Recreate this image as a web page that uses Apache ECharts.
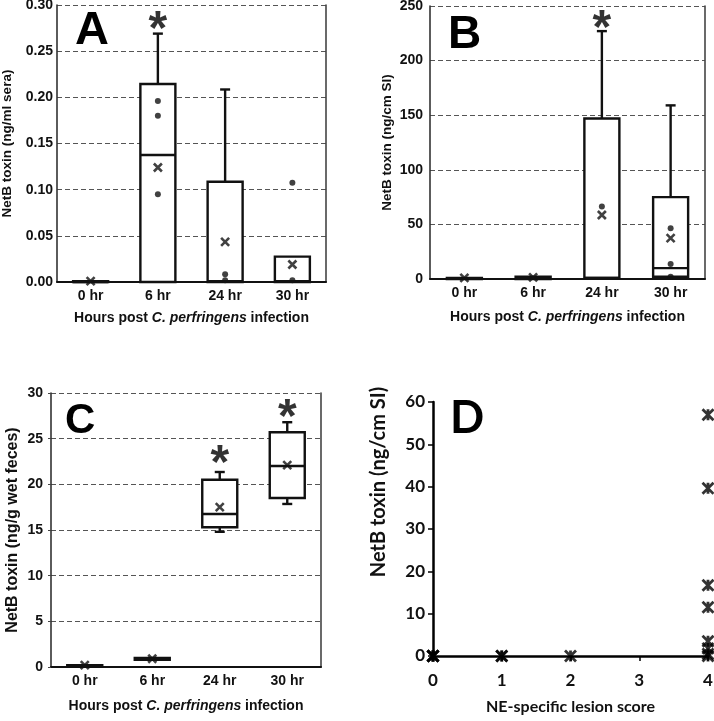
<!DOCTYPE html>
<html><head><meta charset="utf-8">
<script src="https://cdn.jsdelivr.net/npm/echarts@6/dist/echarts.min.js"></script>
<style>html,body{margin:0;padding:0;background:#fff}#c{width:714px;height:721px}</style>
</head><body><div id="c"></div>
<script>
// ---------- data ----------
const categories = ['0 hr', '6 hr', '24 hr', '30 hr'];

// Box data per time point: [lower whisker, Q1, median, Q3, upper whisker]
const boxA = [[0, 0, 0, 0.001, 0.001], [0, 0, 0.1375, 0.2145, 0.269], [0, 0, 0.001, 0.1085, 0.2085], [0, 0, 0.001, 0.0275, 0.0275]];
const meanA = [0.001, 0.124, 0.0435, 0.019];
const dotsA = [['6 hr', 0.196], ['6 hr', 0.180], ['6 hr', 0.095], ['24 hr', 0.0083], ['24 hr', 0.002], ['30 hr', 0.1075], ['30 hr', 0.002]];
const starsA = [['6 hr', 0.284]];

const boxB = [[0, 0, 0.5, 1, 1], [0, 0, 1, 2, 2], [1, 1, 1, 147, 227], [2, 2, 10, 75, 159]];
const meanB = [1, 1.5, 58.6, 37.5];
const dotsB = [['24 hr', 66.5], ['30 hr', 46.5], ['30 hr', 13.8], ['30 hr', 2]];
const starsB = [['24 hr', 238]];

const boxC = [[0.1, 0.1, 0.15, 0.2, 0.2], [0.8, 0.8, 0.9, 1.0, 1.0], [14.8, 15.3, 16.75, 20.5, 21.35], [17.85, 18.5, 22.0, 25.7, 26.8]];
const meanC = [0.2, 0.9, 17.5, 22.1];
const starsC = [['24 hr', 23.3], ['30 hr', 28.4]];

const lesionScore = [0, 0, 0, 0, 1, 1, 2, 4, 4, 4, 4, 4, 4, 4, 4];
const netbSI = [0, 0, 0, 0, 0, 0, 0, 57, 39.6, 16.7, 11.5, 3.5, 1.8, 0.5, 0];

const yTicksA = { min: 0, max: 0.3, interval: 0.05 };
const yTicksB = { min: 0, max: 250, interval: 50 };
const yTicksC = { min: 0, max: 30, interval: 5 };
const yTicksD = { min: 0, max: 60, interval: 10 };
const xTicksD = { min: 0, max: 4, interval: 1 };

// ---------- styling ----------
const F = '"Liberation Sans", Arial, sans-serif';
const FD = 'Lato, "Open Sans", sans-serif';
const INK = '#111';

function boxRender(params, api) {
  const cat = api.value(0);
  const lo = api.value(1), q1 = api.value(2), md = api.value(3), q3 = api.value(4), hi = api.value(5);
  const pLo = api.coord([cat, lo]), pQ1 = api.coord([cat, q1]), pMd = api.coord([cat, md]);
  const pQ3 = api.coord([cat, q3]), pHi = api.coord([cat, hi]);
  const cx = pQ1[0], half = 17.5, cap = 5;
  const ls = { stroke: INK, lineWidth: 2.4 };
  const ch = [];
  if (hi > q3) {
    ch.push({ type: 'line', shape: { x1: cx, y1: pQ3[1], x2: cx, y2: pHi[1] }, style: ls });
    ch.push({ type: 'line', shape: { x1: cx - cap, y1: pHi[1], x2: cx + cap, y2: pHi[1] }, style: ls });
  }
  if (lo < q1) {
    ch.push({ type: 'line', shape: { x1: cx, y1: pQ1[1], x2: cx, y2: pLo[1] }, style: ls });
    ch.push({ type: 'line', shape: { x1: cx - cap, y1: pLo[1], x2: cx + cap, y2: pLo[1] }, style: ls });
  }
  ch.push({ type: 'rect', shape: { x: cx - half, y: pQ3[1], width: 2 * half, height: Math.max(pQ1[1] - pQ3[1], 0.8) }, style: { fill: '#fff', stroke: INK, lineWidth: 2.4 } });
  ch.push({ type: 'line', shape: { x1: cx - half, y1: pMd[1], x2: cx + half, y2: pMd[1] }, style: ls });
  return { type: 'group', children: ch };
}

function boxSeries(idx, box, mean, dots, stars) {
  const out = [];
  out.push({
    type: 'custom', xAxisIndex: idx, yAxisIndex: idx, renderItem: boxRender, z: 3,
    encode: { x: 0, y: [1, 2, 3, 4, 5] },
    data: box.map((b, i) => [categories[i], ...b])
  });
  out.push({
    type: 'scatter', xAxisIndex: idx, yAxisIndex: idx, z: 5,
    symbol: 'path://M0,0L10,10M10,0L0,10', symbolSize: 8,
    itemStyle: { color: INK, borderColor: INK, borderWidth: 2.6 },
    data: mean.map((v, i) => [categories[i], v])
  });
  if (dots && dots.length) out.push({
    type: 'scatter', xAxisIndex: idx, yAxisIndex: idx, z: 5,
    symbol: 'circle', symbolSize: 6, itemStyle: { color: INK },
    data: dots
  });
  out.push({
    type: 'scatter', xAxisIndex: idx, yAxisIndex: idx, z: 6, silent: true,
    symbol: 'circle', symbolSize: 1, itemStyle: { color: 'rgba(0,0,0,0)' },
    label: { show: true, position: 'inside', formatter: '*', fontSize: 48, fontWeight: 'bold', fontFamily: F, color: '#000', offset: [0, 11] },
    data: stars
  });
  return out;
}

function catAxis(grid, nameGap) {
  return {
    type: 'category', gridIndex: grid, data: categories, boundaryGap: true,
    axisLine: { show: true, onZero: false, lineStyle: { color: INK, width: 2 } },
    axisTick: { show: false }, splitLine: { show: false },
    axisLabel: { margin: 7, fontSize: 14, fontWeight: 'bold', color: INK, fontFamily: F },
    name: 'Hours post {i|C. perfringens} infection', nameLocation: 'middle', nameGap, nameMoveOverlap: false,
    nameTextStyle: { fontSize: 14, fontWeight: 'bold', color: INK, fontFamily: F,
      rich: { i: { fontSize: 14, fontWeight: 'bold', fontStyle: 'italic', color: INK, fontFamily: F } } }
  };
}
function valAxis(grid, t, name, nameGap, nameSize, fmt, margin, tick) {
  return {
    type: 'value', gridIndex: grid, min: t.min, max: t.max, interval: t.interval,
    axisLine: { show: true, onZero: false, lineStyle: { color: '#333', width: 1.6 } },
    axisTick: { show: !!tick, length: 3, lineStyle: { color: '#444' } },
    splitLine: { show: true, lineStyle: { color: '#555', width: 1.2, type: [5, 3] } },
    axisLabel: { formatter: fmt, margin, fontSize: 14, fontWeight: 'bold', color: INK, fontFamily: F },
    name, nameLocation: 'middle', nameGap, nameMoveOverlap: false,
    nameTextStyle: { fontSize: nameSize, fontWeight: 'bold', color: INK, fontFamily: F }
  };
}
function frameAxis(grid, t) {
  return {
    type: 'value', gridIndex: grid, position: 'right', min: t.min, max: t.max, interval: t.interval,
    axisLine: { show: true, onZero: false, lineStyle: { color: '#444', width: 1.6 } },
    axisTick: { show: false }, axisLabel: { show: false }, splitLine: { show: false }
  };
}

const option = {
  backgroundColor: '#fff',
  animation: false,
  grid: [
    { left: 57, top: 5, width: 269, height: 277, outerBoundsMode: 'none' },
    { left: 430, top: 6, width: 275, height: 273, outerBoundsMode: 'none' },
    { left: 51, top: 393, width: 270, height: 274, outerBoundsMode: 'none' },
    { left: 433, top: 402, width: 275, height: 254, outerBoundsMode: 'none' }
  ],
  xAxis: [
    catAxis(0, 29),
    catAxis(1, 31),
    catAxis(2, 32),
    {
      type: 'value', gridIndex: 3, min: xTicksD.min, max: xTicksD.max, interval: xTicksD.interval,
      axisLine: { show: true, onZero: false, lineStyle: { color: '#000', width: 2.5 } },
      axisTick: { show: true, length: 5, lineStyle: { color: '#000', width: 1.5 } },
      splitLine: { show: false },
      axisLabel: { margin: 16, fontSize: 17, fontWeight: 'bold', color: INK, fontFamily: FD },
      name: 'NE-specific lesion score', nameLocation: 'middle', nameGap: 43, nameMoveOverlap: false,
      nameTextStyle: { fontSize: 16, fontWeight: 'bold', color: INK, fontFamily: FD }
    }
  ],
  yAxis: [
    valAxis(0, yTicksA, 'NetB toxin (ng/ml sera)', 43, 13.5, v => v.toFixed(2), 4, false),
    valAxis(1, yTicksB, 'NetB toxin (ng/cm SI)', 36, 13.5, v => String(v), 7, false),
    valAxis(2, yTicksC, 'NetB toxin (ng/g wet feces)', 30, 16, v => String(v), 8, true),
    {
      type: 'value', gridIndex: 3, min: yTicksD.min, max: yTicksD.max, interval: yTicksD.interval,
      axisLine: { show: true, onZero: false, lineStyle: { color: '#000', width: 2.5 } },
      axisTick: { show: true, length: 5, lineStyle: { color: '#000', width: 1.5 } },
      splitLine: { show: false },
      axisLabel: { margin: 8, fontSize: 17, fontWeight: 'bold', color: INK, fontFamily: FD },
      name: 'NetB toxin (ng/cm SI)', nameLocation: 'middle', nameGap: 44, nameMoveOverlap: false,
      nameTextStyle: { fontSize: 20, fontWeight: 'bold', color: INK, fontFamily: FD, padding: [0, 0, 0, 94] }
    },
    frameAxis(0, yTicksA),
    frameAxis(1, yTicksB),
    frameAxis(2, yTicksC)
  ],
  graphic: [
    { type: 'text', left: 75, top: 8, style: { text: 'A', fontSize: 47, fontWeight: 'bold', fontFamily: F, fill: '#000' } },
    { type: 'text', left: 448, top: 12, style: { text: 'B', fontSize: 46, fontWeight: 'bold', fontFamily: F, fill: '#000' } },
    { type: 'text', left: 65, top: 400, style: { text: 'C', fontSize: 42, fontWeight: 'bold', fontFamily: F, fill: '#000' } },
    { type: 'text', left: 450, top: 396, style: { text: 'D', fontSize: 45, fontWeight: 'bold', fontFamily: FD, fill: '#000' } }
  ],
  series: [
    ...boxSeries(0, boxA, meanA, dotsA, starsA),
    ...boxSeries(1, boxB, meanB, dotsB, starsB),
    ...boxSeries(2, boxC, meanC, [], starsC),
    {
      type: 'scatter', xAxisIndex: 3, yAxisIndex: 3, z: 5, clip: false,
      symbol: 'path://M0,0L10,10M10,0L0,10M5,0L5,10', symbolSize: 11,
      itemStyle: { color: '#000', borderColor: '#000', borderWidth: 2.8 },
      data: lesionScore.map((s, i) => [s, netbSI[i]])
    }
  ]
};

const chart = echarts.init(document.getElementById('c'), null, { renderer: 'canvas' });
chart.setOption(option);
</script>
</body></html>
